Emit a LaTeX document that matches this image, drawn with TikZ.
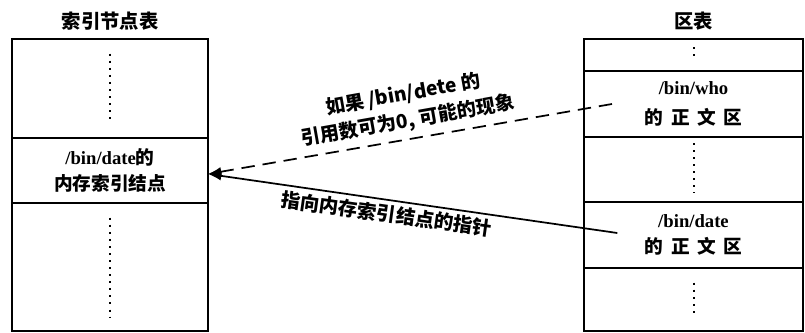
\documentclass[tikz,border=0pt]{standalone}
\usepackage{fontspec}
\setmainfont{Liberation Serif}
\newfontfamily\cjk{Noto Sans CJK SC}
\newcommand{\zhtext}[1]{{\cjk\bfseries #1}}
\newcommand{\zhgap}{\hspace{.4em}}
\usetikzlibrary{arrows.meta, positioning, calc}

\begin{document}
\begin{tikzpicture}[
  x=0.75pt, y=-0.75pt,
  >={Latex[length=10pt, width=7pt]},
  cell/.style={draw, line width=1.2pt, outer sep=0pt, inner sep=0pt,
               align=center, font=\bfseries\fontsize{14}{20}\selectfont},
  lcell/.style={cell, minimum width=147pt},
  rcell/.style={cell, minimum width=164.25pt},
  dots/.style={line width=1.5pt, dash pattern=on 1.5pt off 3.8pt},
  title/.style={font=\cjk\bfseries\fontsize{14.5}{17}\selectfont},
  lbl/.style={font=\cjk\bfseries\fontsize{14.5}{20}\selectfont, align=center,
              inner sep=1pt},
  arr/.style={->, line width=1.3pt}
]
\useasboundingbox (0,0) rectangle (805,332);

%% ── INODE TABLE (left) ───────────────────────────────────────────────────────

\node[lcell, minimum height=74.25pt, anchor=north west] (ltop) at (12,39) {};
\node[lcell, minimum height=48.75pt, below=0pt of ltop] (lmid) {
  /bin/date\zhtext{的}\\
  \zhtext{内存索引结点}
};
\node[lcell, minimum height=96pt, below=0pt of lmid] (lbot) {};

\node[title, above=3pt of ltop] (ltitle) {索引节点表};

\draw[dots] ([yshift=-11pt]ltop.north) -- ([yshift=12pt]ltop.south);
\draw[dots] ([yshift=-11pt]lbot.north) -- ([yshift=10pt]lbot.south);

%% ── REGION TABLE (right) ─────────────────────────────────────────────────────

\node[rcell, minimum height=24pt, anchor=north west] (rtop) at (584,39) {};
\node[rcell, minimum height=49.5pt, below=0pt of rtop] (rwho) {
  /bin/who\\[2pt]
  \zhtext{的\zhgap 正\zhgap 文\zhgap 区}
};
\node[rcell, minimum height=48.75pt, below=0pt of rwho] (rgap) {};
\node[rcell, minimum height=49.5pt, below=0pt of rgap] (rdate) {
  /bin/date\\
  \zhtext{的\zhgap 正\zhgap 文\zhgap 区}
};
\node[rcell, minimum height=47.25pt, below=0pt of rdate] (rbot) {};

\node[title, above=3pt of rtop] (rtitle) {区表};

\draw[dots] ([yshift=-6pt]rtop.north) -- ([yshift=8pt]rtop.south);
\draw[dots] ([yshift=-4.5pt]rgap.north) -- ([yshift=7pt]rgap.south);
\draw[dots] ([yshift=-11pt]rbot.north) -- ([yshift=12pt]rbot.south);

%% ── ARROWS: pointers to the inode ────────────────────────────────────────────

\coordinate (whoTail)  at ([xshift=21pt]rwho.west);
\coordinate (dateTail) at ([xshift=25pt, yshift=1.5pt]rdate.west);
\coordinate (inodeHit) at ([yshift=-2.6pt]lmid.east);

\draw[arr, dash pattern=on 10pt off 6pt] (whoTail) --
  node[lbl, pos=0.5, rotate=10, above=4pt] {
    如果 /bin/dete 的\\
    引用数可为0, 可能的现象
  } (inodeHit);

\draw[arr] (dateTail) --
  node[lbl, pos=0.56, rotate=-8, below=2pt] {指向内存索引结点的指针}
  (inodeHit);

\end{tikzpicture}
\end{document}
